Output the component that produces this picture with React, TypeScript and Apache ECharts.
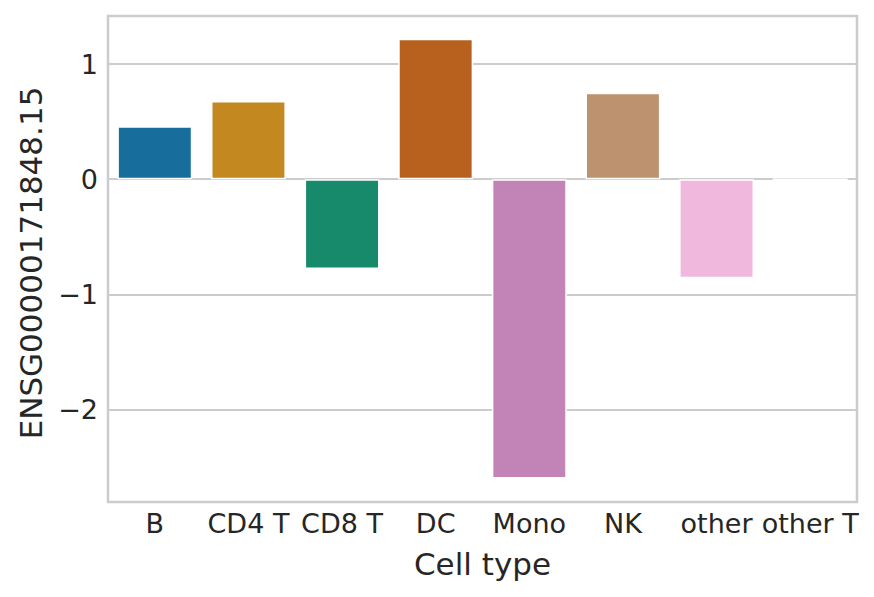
import React, { useEffect, useRef } from "react";
import * as echarts from "echarts";

const categories = ["B", "CD4 T", "CD8 T", "DC", "Mono", "NK", "other", "other T"];
const values = [0.46, 0.68, -0.78, 1.22, -2.6, 0.75, -0.86, 0.0];
const barColors = ["#176d9c", "#c38820", "#168a6a", "#b8611f", "#c283b6", "#bd926e", "#f1b8de", "#949494"];
const yLabel = "ENSG00000171848.15";
const xLabel = "Cell type";

export default function App() {
  const ref = useRef<HTMLDivElement>(null);
  useEffect(() => {
    document.body.style.margin = "0";
    const chart = echarts.init(ref.current!, null, { renderer: "svg" });
    const font = "DejaVu Sans";
    chart.setOption({
      animation: false,
      backgroundColor: "#ffffff",
      grid: {
        left: 108,
        right: 17,
        top: 16,
        bottom: 95,
        show: true,
        borderColor: "#cccccc",
        borderWidth: 2.5,
        containLabel: false,
      },
      xAxis: {
        type: "category",
        data: categories,
        name: xLabel,
        nameLocation: "middle",
        nameGap: 46,
        nameTextStyle: { fontFamily: font, fontSize: 31, color: "#262626" },
        axisLine: { show: false },
        axisTick: { show: false },
        axisLabel: {
          fontFamily: font,
          fontSize: 27,
          color: "#262626",
          margin: 8,
          interval: 0,
        },
        splitLine: { show: false },
      },
      yAxis: {
        type: "value",
        min: -2.803,
        max: 1.417,
        splitNumber: 4,
        name: yLabel,
        nameLocation: "middle",
        nameRotate: 90,
        nameGap: 62,
        nameTextStyle: { fontFamily: font, fontSize: 31, color: "#262626", padding: [0, 8, 0, 0] },
        axisLine: { show: false },
        axisTick: { show: false },
        axisLabel: {
          fontFamily: font,
          fontSize: 27,
          color: "#262626",
          margin: 10,
          showMinLabel: false,
          showMaxLabel: false,
          formatter: (v: number) => String(Math.round(v)).replace("-", "\u2212"),
        },
        splitLine: { show: true, lineStyle: { color: "#cccccc", width: 2 } },
      },
      series: [
        {
          type: "bar",
          data: values.map((v, i) => ({ value: v, itemStyle: { color: barColors[i] } })),
          barWidth: "80%",
          itemStyle: { borderColor: "#ffffff", borderWidth: 1.5 },
        },
      ],
    });
    return () => chart.dispose();
  }, []);
  return (
    <div
      ref={ref}
      style={{ position: "absolute", left: 0, top: 0, width: 874, height: 597 }}
    />
  );
}
